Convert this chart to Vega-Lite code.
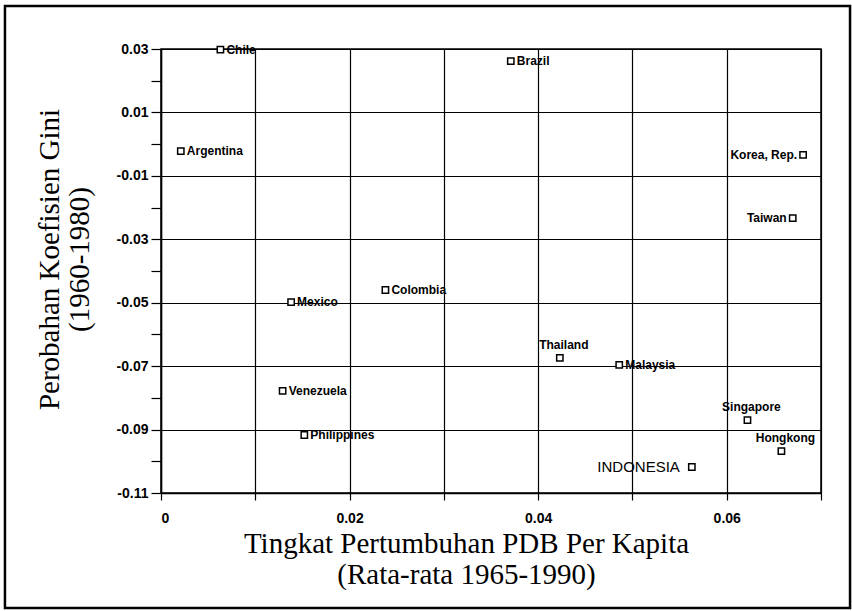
{
  "$schema": "https://vega.github.io/schema/vega-lite/v6.json",
  "width": 660,
  "height": 444,
  "autosize": {"type": "none"},
  "padding": {"left": 161, "top": 49, "right": 31, "bottom": 118},
  "background": "white",
  "config": {
    "view": {"stroke": "black", "strokeWidth": 1.5},
    "axis": {
      "domainColor": "black",
      "domainWidth": 1.5,
      "tickColor": "black",
      "tickWidth": 1.2,
      "gridColor": "black",
      "gridWidth": 1.2,
      "labelFont": "Liberation Sans",
      "labelFontWeight": "bold",
      "labelFontSize": 14,
      "labelColor": "black",
      "titleFont": "Liberation Serif",
      "titleFontWeight": "normal",
      "titleFontSize": 29,
      "titleColor": "black",
      "titleLineHeight": 31
    }
  },
  "datasets": {
    "frame": [{"left": -0.01655, "right": 0.07308, "top": 0.04356, "bottom": -0.1463}]
  },
  "data": {
    "values": [
      {"country": "Chile", "growth": 0.0063, "gini": 0.0298},
      {"country": "Argentina", "growth": 0.0021, "gini": -0.0022},
      {"country": "Brazil", "growth": 0.0371, "gini": 0.0262},
      {"country": "Korea, Rep.", "growth": 0.0681, "gini": -0.0034},
      {"country": "Taiwan", "growth": 0.067, "gini": -0.0233},
      {"country": "Colombia", "growth": 0.0238, "gini": -0.046},
      {"country": "Mexico", "growth": 0.0138, "gini": -0.0498},
      {"country": "Thailand", "growth": 0.0423, "gini": -0.0674},
      {"country": "Malaysia", "growth": 0.0486, "gini": -0.0696},
      {"country": "Venezuela", "growth": 0.0129, "gini": -0.0778},
      {"country": "Philippines", "growth": 0.0152, "gini": -0.0917},
      {"country": "Singapore", "growth": 0.0622, "gini": -0.087},
      {"country": "Hongkong", "growth": 0.0658, "gini": -0.0968},
      {"country": "INDONESIA", "growth": 0.0563, "gini": -0.1018}
    ]
  },
  "encoding": {
    "x": {
      "field": "growth",
      "type": "quantitative",
      "scale": {"domain": [0, 0.07], "nice": false, "zero": false},
      "axis": {
        "values": [0, 0.01, 0.02, 0.03, 0.04, 0.05, 0.06, 0.07],
        "labelExpr": "round(datum.value*100) % 2 == 0 ? format(datum.value, '.2~f') : ''",
        "grid": true,
        "tickSize": 7,
        "labelPadding": 11,
        "title": ["Tingkat Pertumbuhan PDB Per Kapita", "(Rata-rata 1965-1990)"],
        "titleX": 305,
        "titlePadding": 4
      }
    },
    "y": {
      "field": "gini",
      "type": "quantitative",
      "scale": {"domain": [-0.11, 0.03], "nice": false, "zero": false},
      "axis": {
        "values": [0.03, 0.02, 0.01, 0, -0.01, -0.02, -0.03, -0.04, -0.05, -0.06, -0.07, -0.08, -0.09, -0.1, -0.11],
        "labelExpr": "abs(round(datum.value*100)) % 2 == 1 ? replace(format(datum.value, '.2f'), '−', '-') : ''",
        "grid": true,
        "gridOpacity": {"condition": {"test": "abs(round(datum.value*100)) % 2 == 1", "value": 1}, "value": 0},
        "tickSize": 10,
        "labelPadding": 3,
        "title": ["Perobahan Koefisien Gini", "(1960-1980)"],
        "titleLineHeight": 30,
        "titleY": 210,
        "titlePadding": 22
      }
    }
  },
  "layer": [
    {
      "data": {"name": "frame"},
      "mark": {"type": "rect", "clip": false, "fill": "white", "fillOpacity": 0, "stroke": "black", "strokeWidth": 2.5},
      "encoding": {
        "x": {"field": "left", "type": "quantitative"},
        "x2": {"field": "right"},
        "y": {"field": "top", "type": "quantitative"},
        "y2": {"field": "bottom"}
      }
    },
    {
      "mark": {"type": "point", "shape": "square", "filled": true, "fill": "white", "stroke": "black", "strokeWidth": 1.5, "size": 40, "opacity": 1}
    },
    {
      "transform": [{"filter": {"field": "country", "oneOf": ["Chile", "Argentina", "Brazil", "Colombia", "Mexico", "Malaysia", "Venezuela", "Philippines"]}}],
      "mark": {"type": "text", "align": "left", "baseline": "middle", "dx": 6, "font": "Liberation Sans Narrow, Liberation Sans", "fontWeight": "bold", "fontSize": 12, "color": "black"},
      "encoding": {"text": {"field": "country"}}
    },
    {
      "transform": [{"filter": {"field": "country", "oneOf": ["Korea, Rep.", "Taiwan"]}}],
      "mark": {"type": "text", "align": "right", "baseline": "middle", "dx": -6, "font": "Liberation Sans Narrow, Liberation Sans", "fontWeight": "bold", "fontSize": 12, "color": "black"},
      "encoding": {"text": {"field": "country"}}
    },
    {
      "transform": [{"filter": {"field": "country", "oneOf": ["Thailand", "Singapore", "Hongkong"]}}],
      "mark": {"type": "text", "align": "center", "baseline": "bottom", "dx": 4, "dy": -6, "font": "Liberation Sans Narrow, Liberation Sans", "fontWeight": "bold", "fontSize": 12, "color": "black"},
      "encoding": {"text": {"field": "country"}}
    },
    {
      "transform": [{"filter": {"field": "country", "equal": "INDONESIA"}}],
      "mark": {"type": "text", "align": "right", "baseline": "middle", "dx": -12, "font": "Liberation Sans", "fontSize": 15, "color": "black"},
      "encoding": {"text": {"field": "country"}}
    }
  ]
}
